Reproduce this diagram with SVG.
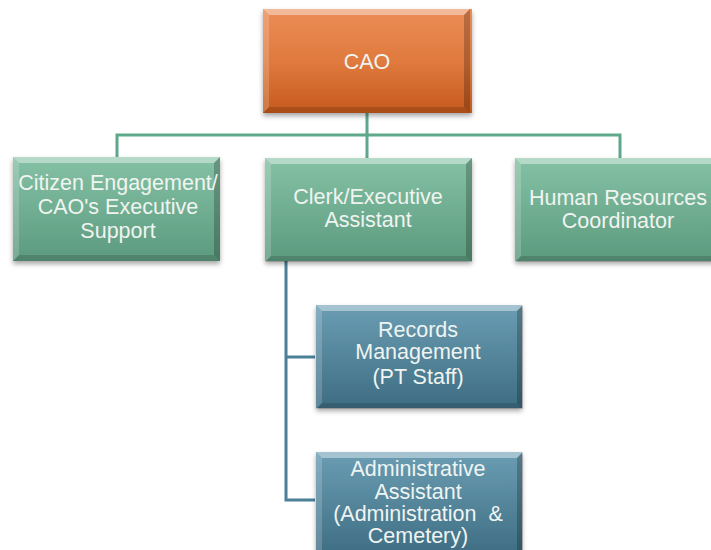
<svg xmlns="http://www.w3.org/2000/svg" xmlns:xlink="http://www.w3.org/1999/xlink" width="711" height="550" viewBox="0 0 711 550">
<defs>
<linearGradient id="gOrange" x1="0" y1="0" x2="0" y2="1">
<stop offset="0" stop-color="#ec8d58"/><stop offset="0.5" stop-color="#e07a3e"/><stop offset="1" stop-color="#c65a1d"/>
</linearGradient>
<linearGradient id="gGreen" x1="0" y1="0" x2="0" y2="1">
<stop offset="0" stop-color="#85c2a5"/><stop offset="1" stop-color="#5c9a7e"/>
</linearGradient>
<linearGradient id="gBlue" x1="0" y1="0" x2="0" y2="1">
<stop offset="0" stop-color="#6a9db3"/><stop offset="1" stop-color="#3e6d83"/>
</linearGradient>
<filter id="shadow" x="-10%" y="-10%" width="120%" height="130%">
<feDropShadow dx="0" dy="3" stdDeviation="2.5" flood-color="#000" flood-opacity="0.35"/>
</filter>
<g id="bevel">
<polygon points="0,0 207,0 201,6 6,6" fill="#fff" opacity="0.4"/>
<polygon points="0,0 6,6 6,98 0,104" fill="#fff" opacity="0.18"/>
<polygon points="207,0 207,104 201,98 201,6" fill="#000" opacity="0.22"/>
<polygon points="0,104 207,104 201,98 6,98" fill="#000" opacity="0.15"/>
</g>
</defs>
<style>
text { font-family: "Liberation Sans", Arial, sans-serif; font-size: 21.5px; fill: #f0f4f1; text-anchor: middle; }
.green { fill: url(#gGreen); filter: url(#shadow); }
.blue { fill: url(#gBlue); filter: url(#shadow); }
.orange { fill: url(#gOrange); filter: url(#shadow); }
.cg { stroke: #5ea88c; stroke-width: 3; fill: none; }
.cb { stroke: #4b8098; stroke-width: 3; fill: none; }
</style>
<rect width="711" height="550" fill="#ffffff"/>
<g id="connectors">
<path class="cg" d="M367,113 V135 M117,157 V135 H620 V158 M367,135 V158"/>
<path class="cb" d="M286,260 V500 H315 M286,357 H315"/>
</g>
<g id="cao">
<rect class="orange" x="263" y="9" width="209" height="104"/>
<use xlink:href="#bevel" x="263" y="9"/>
<text x="367" y="69">CAO</text>
</g>
<g id="citizen">
<rect class="green" x="13" y="157" width="207" height="104"/>
<use xlink:href="#bevel" x="13" y="157"/>
<text x="118" y="190">Citizen Engagement/</text>
<text x="118" y="214">CAO's Executive</text>
<text x="118" y="238">Support</text>
</g>
<g id="clerk">
<rect class="green" x="265" y="158" width="207" height="103"/>
<use xlink:href="#bevel" x="265" y="158"/>
<text x="368" y="204">Clerk/Executive</text>
<text x="368" y="227">Assistant</text>
</g>
<g id="hr">
<rect class="green" x="515" y="158" width="207" height="103"/>
<use xlink:href="#bevel" x="515" y="158"/>
<text x="618" y="205">Human Resources</text>
<text x="618" y="228">Coordinator</text>
</g>
<g id="records">
<rect class="blue" x="316" y="305" width="206" height="103"/>
<use xlink:href="#bevel" x="316" y="305"/>
<text x="418" y="337">Records</text>
<text x="418" y="359">Management</text>
<text x="418" y="384">(PT Staff)</text>
</g>
<g id="admin">
<rect class="blue" x="316" y="452" width="206" height="104"/>
<use xlink:href="#bevel" x="316" y="452"/>
<text x="418" y="476">Administrative</text>
<text x="418" y="499">Assistant</text>
<text x="418" y="521" xml:space="preserve">(Administration  &amp;</text>
<text x="418" y="543">Cemetery)</text>
</g>
</svg>
